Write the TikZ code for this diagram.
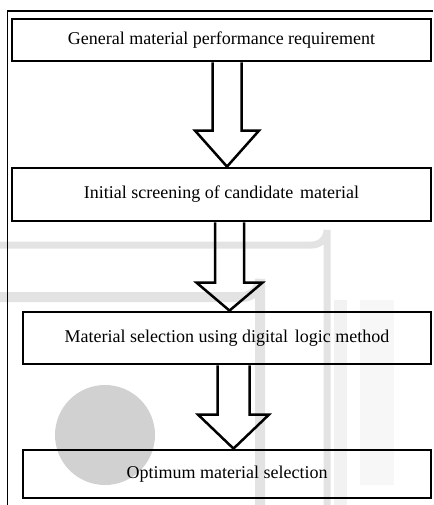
\documentclass[tikz,border=0pt]{standalone}
\usepackage{fontspec}
\setmainfont{Liberation Serif}
\usetikzlibrary{calc}

\tikzset{
  stepbox/.style={draw, line width=2.8pt, inner sep=0pt, font=\fontsize{18}{20}\selectfont},
  blockarrow/.style={draw, line width=2.5pt, line join=miter},
  watermark/.style={draw=gray!22, line cap=butt}
}

% hollow block arrow: from, to, x offset, shaft half width, head half width, head length
\newcommand{\flowarrow}[6]{%
  \draw[blockarrow] let \p1=(#1.south), \p2=(#2.north) in
    ({\x1+#3-#4},\y1) -- ({\x1+#3-#4},{\y2+#6}) -- ({\x1+#3-#5},{\y2+#6})
    -- ({\x1+#3},\y2) -- ({\x1+#3+#5},{\y2+#6}) -- ({\x1+#3+#4},{\y2+#6})
    -- ({\x1+#3+#4},\y1);}

\begin{document}
\begin{tikzpicture}[x=1pt,y=-1pt]
        \useasboundingbox (0,0) rectangle (433,505);

        %faint watermark behind the chart
        \fill[gray!36] (105,435) circle (50);
        \draw[watermark, line width=7pt] (0,245) -- (312,245) arc (90:0:15) -- (327,505);
        \draw[watermark, line width=10pt] (0,297) -- (242,297) arc (90:0:18) -- (260,505);
        \fill[gray!10] (334,300) rectangle (347,505);
        \fill[gray!6] (360,300) rectangle (394,485);

        %frame of the page
        \draw[line width=1.4pt] (7.5,505) -- (7.5,11) -- (433,11);

        %the four steps
        \node[stepbox, minimum width=419pt, minimum height=42pt] (perf) at (221.5,40) {General material performance requirement};
        \node[stepbox, minimum width=419pt, minimum height=53pt] (screen) at (221.5,194.5) {Initial screening of candidate\hspace{0.12em} material};
        \node[stepbox, minimum width=408pt, minimum height=52pt] (logic) at (227,338) {Material selection using digital\hspace{0.12em} logic method};
        \node[stepbox, minimum width=408pt, minimum height=48pt] (optim) at (227,474) {Optimum material selection};

        %arrows between them
        \flowarrow{perf}{screen}{5.5pt}{14.5pt}{32pt}{36pt}
        \flowarrow{screen}{logic}{8pt}{14.5pt}{33pt}{28pt}
        \flowarrow{logic}{optim}{6.5pt}{16pt}{35.5pt}{34pt}
\end{tikzpicture}
\end{document}
